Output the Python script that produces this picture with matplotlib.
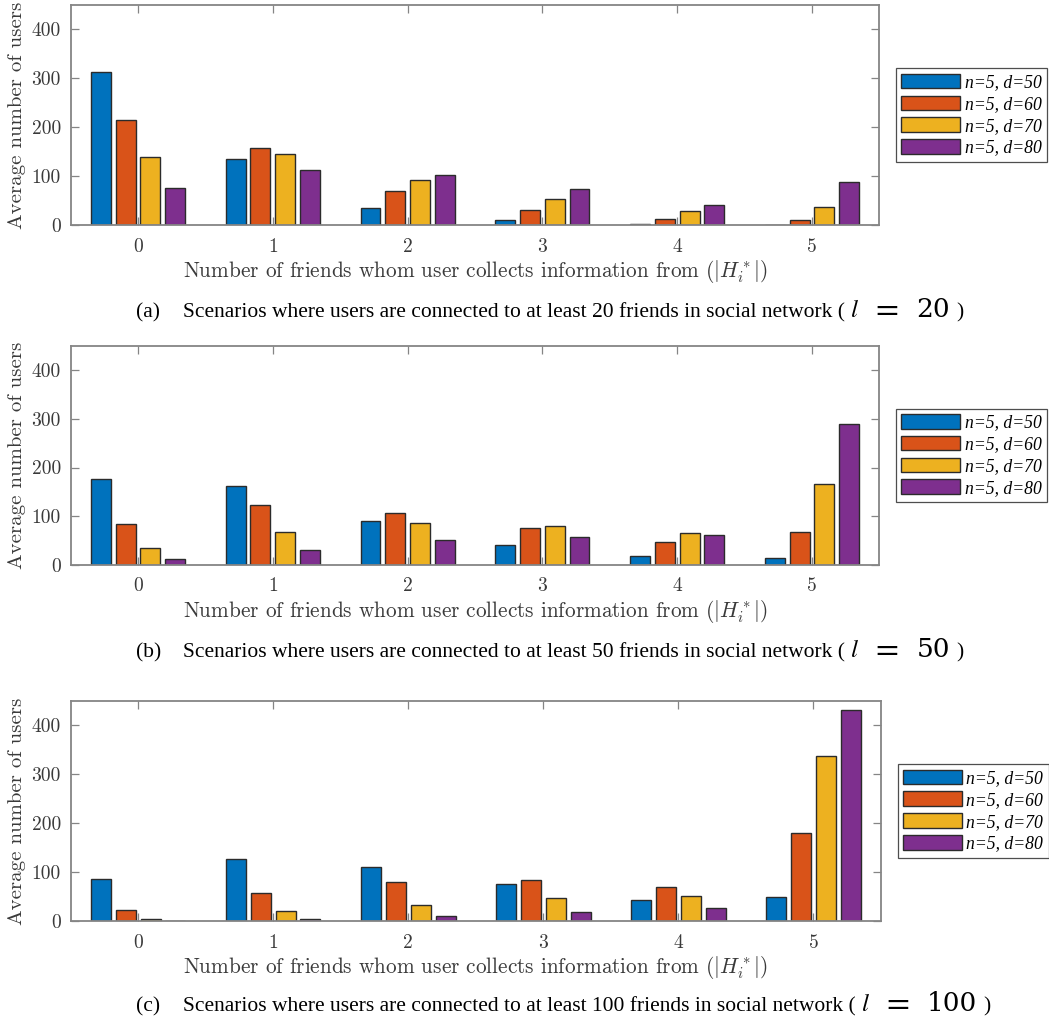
import numpy as np
import matplotlib
matplotlib.use("Agg")
import matplotlib.pyplot as plt

# Data: average number of users vs. |H_i^*|, for n=5 and d in {50,60,70,80}
friends = [0, 1, 2, 3, 4, 5]
series_labels = ["n=5, d=50", "n=5, d=60", "n=5, d=70", "n=5, d=80"]
colors = ["#0072BD", "#D95319", "#EDB120", "#7E2F8E"]

# (a) l = 20
a_d50 = [313, 135, 36, 11, 3, 1.5]
a_d60 = [215, 158, 70, 32, 12, 11]
a_d70 = [140, 145, 93, 54, 30, 38]
a_d80 = [77, 113, 103, 74, 42, 88]

# (b) l = 50
b_d50 = [176, 162, 90, 41, 18, 13]
b_d60 = [83, 123, 106, 75, 46, 67]
b_d70 = [34, 68, 85, 80, 65, 167]
b_d80 = [12, 30, 51, 56, 62, 289]

# (c) l = 100
c_d50 = [87, 128, 111, 77, 43, 49]
c_d60 = [24, 58, 80, 84, 69, 181]
c_d70 = [5.5, 20, 34, 47, 52, 337]
c_d80 = [1.3, 4.7, 11.5, 19, 28, 432]

yticks = [0, 100, 200, 300, 400]

panel_tags = ["(a)", "(b)", "(c)"]
min_friends = ["20", "50", "100"]

plt.rcParams["mathtext.fontset"] = "cm"
plt.rcParams["axes.formatter.use_mathtext"] = True

W, H = 1049, 1026
fig = plt.figure(figsize=(W / 100, H / 100), dpi=100)

spine_col = "#858585"
label_col = "#3a3a3a"
edge_col = "#2b2b2b"

# axes boxes in pixels: (left, top, right, bottom)
boxes = [(70.7, 5.0, 879.3, 225.3), (70.7, 346.0, 879.3, 564.7), (70.7, 700.7, 881.0, 921.3)]
caption_base = [317.0, 657.0, 1011.0]
panels = [
    [a_d50, a_d60, a_d70, a_d80],
    [b_d50, b_d60, b_d70, b_d80],
    [c_d50, c_d60, c_d70, c_d80],
]

pitch = 0.1837
width = 0.148
x = np.array(friends, dtype=float)
cap_size = 15.5
serif = "Liberation Serif"


def put(xpix, ypix, s, **kw):
    """Place a caption fragment at pixel coordinates and return its right edge."""
    t = fig.text(xpix / W, 1 - ypix / H, s, va="baseline", ha="left", color="black", **kw)
    fig.canvas.draw()
    return t.get_window_extent().x1


for (l, t, r, b), data, yb, tag, lval in zip(boxes, panels, caption_base, panel_tags, min_friends):
    ax = fig.add_axes([l / W, 1 - b / H, (r - l) / W, (b - t) / H])
    handles = []
    for i, (vals, col, lab) in enumerate(zip(data, colors, series_labels)):
        h = ax.bar(x + (i - 1.5) * pitch, vals, width, color=col,
                   edgecolor=edge_col, linewidth=1.0, label=lab, zorder=2)
        handles.append(h)
    ax.set_xlim(-0.5, 5.5)
    ax.set_ylim(0, 450)
    ax.set_xticks(friends)
    ax.set_yticks(yticks)
    ax.set_xticklabels([str(v) for v in friends], fontfamily="cmr10", fontsize=14)
    ax.set_yticklabels([str(v) for v in yticks], fontfamily="cmr10", fontsize=14)
    ax.tick_params(direction="in", length=6, width=0.9, color=spine_col,
                   labelcolor=label_col, top=True, right=True, pad=7)
    ax.tick_params(axis="x", pad=9)
    for s in ax.spines.values():
        s.set_color(spine_col)
        s.set_linewidth(1.3)
    ax.set_xlabel("Number of friends whom user collects information from ($|H_i^*|$)",
                  fontfamily="cmr10", fontsize=15.3, color=label_col, labelpad=2)
    ax.set_ylabel("Average number of users", fontfamily="cmr10", fontsize=15,
                  color=label_col, labelpad=4)
    leg = ax.legend(handles=handles, loc="center left", bbox_to_anchor=(1.0206, 0.5),
                    borderaxespad=0, frameon=True, fancybox=False, edgecolor="#222222",
                    prop={"family": serif, "style": "italic", "size": 12.7},
                    handlelength=3.35, handleheight=0.9, handletextpad=0.25,
                    labelspacing=0.25, borderpad=0.3)
    leg.get_frame().set_linewidth(0.9)

    # caption below each panel
    put(136, yb, tag, fontfamily=serif, fontsize=cap_size)
    x0 = put(183.3, yb,
             f"Scenarios where users are connected to at least {lval} friends in social network (",
             fontfamily=serif, fontsize=cap_size)
    put(x0 + 5, yb, "$l$", math_fontfamily="stix", fontsize=18)
    put(x0 + 26, yb, "$=$", math_fontfamily="stix", fontsize=24)
    xd = put(x0 + 71, yb, lval, fontfamily="DejaVu Serif", fontsize=19)
    put(xd + 6, yb, ")", fontfamily=serif, fontsize=cap_size)

fig.savefig("out.png", dpi=100)
